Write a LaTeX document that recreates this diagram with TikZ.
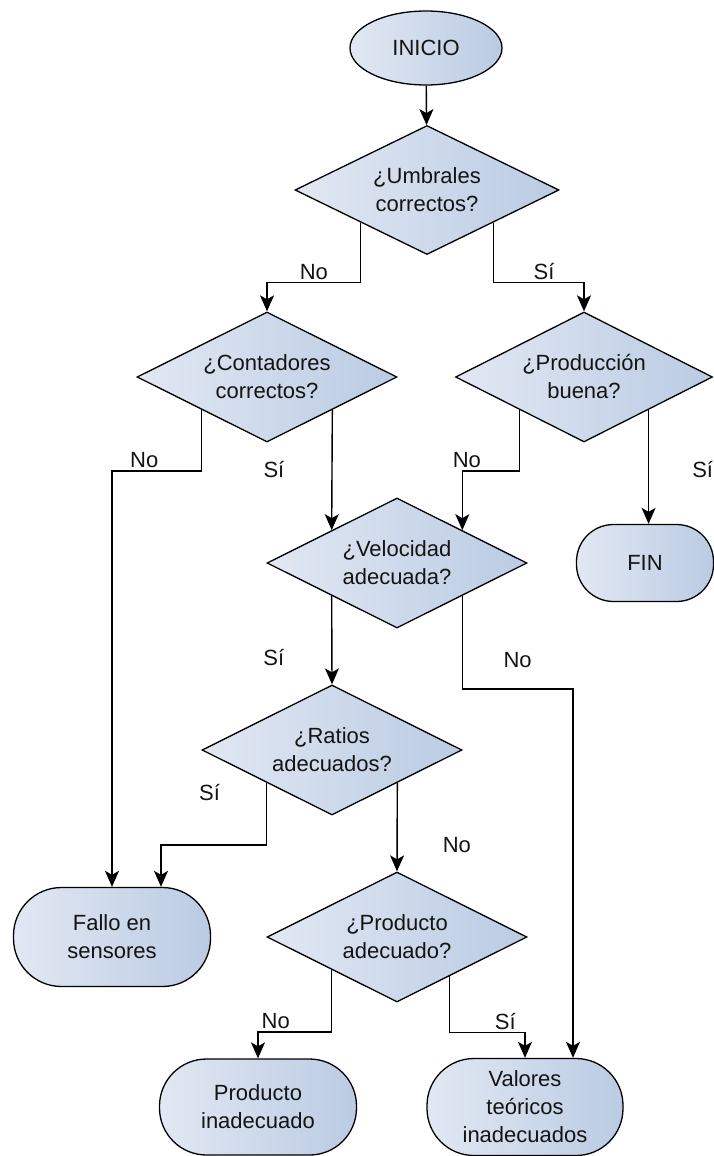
\documentclass[tikz,border=0pt]{standalone}
\usepackage{fontspec}
\setmainfont{Liberation Sans}
\usetikzlibrary{positioning,shapes.geometric,arrows.meta,calc}
\definecolor{flow_light}{RGB}{226,232,243}
\definecolor{flow_dark}{RGB}{186,203,227}
\definecolor{flow_text}{RGB}{20,20,20}

\begin{document}
\begin{tikzpicture}[x=1pt, y=-1pt,
  every node/.style = {font=\fontsize{22}{28}\selectfont, text=flow_text},
  terminal/.style = {rectangle, draw, line width=1.3pt, left color=flow_light, right color=flow_dark, align=center, inner sep=0pt},
  decision/.style = {diamond, draw, line width=1.3pt, left color=flow_light, right color=flow_dark, align=center, inner sep=0pt, aspect=2, minimum width=260pt, minimum height=130pt},
  flow/.style = {-{Stealth[length=16pt, width=14pt, inset=4pt]}, line width=1.4pt},
  answer/.style = {inner sep=2pt}]
\path [use as bounding box, fill=white] (0,0) rectangle (714,1156);

\node (Inicio) [terminal, ellipse, minimum width=152pt, minimum height=74pt] at (426,48) {INICIO};
\node (Umbrales) [decision, minimum width=264pt, minimum height=129pt] at (427,190) {¿Umbrales\\correctos?};
\node (Contadores) [decision] at (267,377) {¿Contadores\\correctos?};
\node (Produccion) [decision, minimum width=257pt] at (584,377) {¿Producción\\buena?};
\node (Velocidad) [decision] at (397,563) {¿Velocidad\\adecuada?};
\node (Ratios) [decision] at (332,750) {¿Ratios\\adecuados?};
\node (Producto) [decision] at (397,937) {¿Producto\\adecuado?};
\node (Fin) [terminal, rounded corners=37pt, minimum width=137pt, minimum height=77pt] at (645,563) {FIN};
\node (Fallo) [terminal, rounded corners=48pt, minimum width=197pt, minimum height=99pt] at (112,937) {Fallo en\\sensores};
\node (ProdInad) [terminal, rounded corners=47pt, minimum width=197pt, minimum height=96pt] at (258,1107) {Producto\\inadecuado};
\node (Valores) [terminal, rounded corners=47pt, minimum width=196pt, minimum height=97pt] at (525,1107) {Valores\\teóricos\\inadecuados};

\draw [flow] (Inicio) -- (Umbrales);
\draw [flow] (Umbrales.south west) -- ++(0,60) -| node [answer, pos=0.25, above] {No} (Contadores.north);
\draw [flow] (Umbrales.south east) -- ++(0,60) -| node [answer, pos=0.28, above] {Sí} (Produccion.north);
\draw [flow] (Contadores.south west) -- ++(0,61) -| node [answer, pos=0.32, above] {No} (Fallo.north);
\draw [flow] (Contadores.south east) -- node [answer, pos=0.5, left=45pt] {Sí} (Velocidad.north west);
\draw [flow] (Produccion.south west) -- ++(0,61) -| node [answer, pos=0.46, above] {No} (Velocidad.north east);
\draw [flow] (Produccion.south east) -- node [answer, pos=0.52, right=41pt] {Sí} (Produccion.south east |- Fin.north);
\draw [flow] (Velocidad.south west) -- node [answer, pos=0.7, left=45pt] {Sí} (Ratios.north);
\draw [flow] (Velocidad.south east) -- ++(0,93) -| node [answer, pos=0.25, above=18pt] {No} ([xshift=48pt]Valores.north);
\draw [flow] (Ratios.south west) -- node [answer, pos=0.15, left=44pt] {Sí} ++(0,62) -| ([xshift=49pt]Fallo.north);
\draw [flow] (Ratios.south east) -- node [answer, pos=0.7, right=43pt] {No} (Producto.north);
\draw [flow] (Producto.south west) -- ++(0,62) -| node [answer, pos=0.38, above] {No} (ProdInad.north);
\draw [flow] ($(Producto.south)!0.4!(Producto.east)$) -- ++(0,56) -| node [answer, pos=0.37, above] {Sí} (Valores.north);
\end{tikzpicture}
\end{document}
